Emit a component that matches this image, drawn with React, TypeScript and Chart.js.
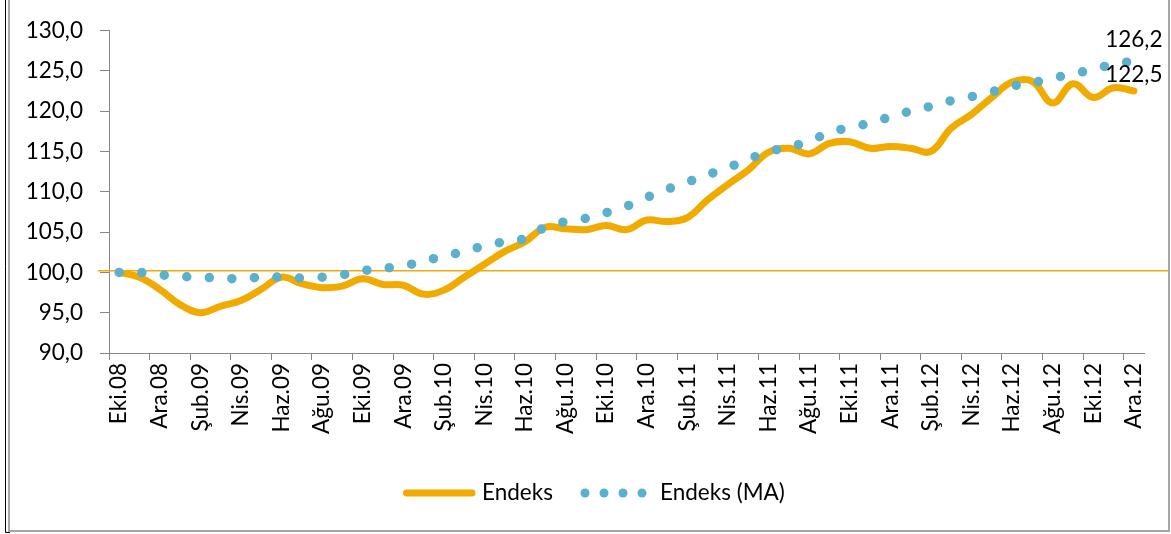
import React, { useEffect, useRef } from "react";
import { Chart, registerables } from "chart.js";

Chart.register(...registerables);

const months = [
  "Eki.08", "Kas.08", "Ara.08",
  "Oca.09", "Şub.09", "Mar.09", "Nis.09", "May.09", "Haz.09", "Tem.09", "Ağu.09", "Eyl.09", "Eki.09", "Kas.09", "Ara.09",
  "Oca.10", "Şub.10", "Mar.10", "Nis.10", "May.10", "Haz.10", "Tem.10", "Ağu.10", "Eyl.10", "Eki.10", "Kas.10", "Ara.10",
  "Oca.11", "Şub.11", "Mar.11", "Nis.11", "May.11", "Haz.11", "Tem.11", "Ağu.11", "Eyl.11", "Eki.11", "Kas.11", "Ara.11",
  "Oca.12", "Şub.12", "Mar.12", "Nis.12", "May.12", "Haz.12", "Tem.12", "Ağu.12", "Eyl.12", "Eki.12", "Kas.12", "Ara.12",
];

const endeks = [
  100.0, 99.4, 97.9, 96.0, 95.0, 95.8, 96.5, 97.9, 99.4, 98.6,
  98.1, 98.3, 99.2, 98.5, 98.4, 97.3, 97.8, 99.4, 101.0, 102.6,
  103.8, 105.6, 105.4, 105.3, 105.8, 105.3, 106.5, 106.3, 106.8, 109.0,
  110.9, 112.7, 114.9, 115.4, 114.7, 116.0, 116.2, 115.4, 115.6, 115.4,
  115.0, 117.9, 119.6, 121.7, 123.6, 123.7, 121.0, 123.4, 121.7, 122.9, 122.5,
];

const endeksMA = [
  100.0, 100.0, 99.7, 99.5, 99.4, 99.3, 99.2, 99.4, 99.4, 99.3,
  99.4, 99.7, 100.2, 100.5, 100.8, 101.4, 102.0, 102.6, 103.3, 103.8,
  104.2, 105.6, 106.3, 106.7, 107.4, 108.2, 109.3, 110.3, 111.2, 112.1,
  113.0, 114.0, 115.0, 115.5, 116.3, 117.3, 118.0, 118.5, 119.3, 120.0,
  120.6, 121.3, 121.8, 122.4, 123.1, 123.5, 124.1, 124.6, 125.2, 125.8, 126.2,
];

const seriesNames = ["Endeks", "Endeks (MA)"];
const yTicks = { min: 90, max: 130, step: 5 };
const referenceLevel = [100.2];

const ORANGE = "#F1AB00";
const BLUE = "#5BB1CD";
const AXIS = "#868686";
const FONT = "Lato, 'Noto Sans', sans-serif";
const FONT_SIZE = 22.5;

const fmt = (v: number) => v.toFixed(1).replace(".", ",");

const overlayPlugin = {
  id: "overlay",
  beforeDatasetsDraw(chart: any) {
    const { ctx } = chart;
    const y = chart.scales.y.getPixelForValue(referenceLevel[0]);
    ctx.save();
    ctx.strokeStyle = ORANGE;
    ctx.lineWidth = 1.5;
    ctx.beginPath();
    ctx.moveTo(98, y);
    ctx.lineTo(1169, y);
    ctx.stroke();
    ctx.restore();
  },
  afterDraw(chart: any) {
    const { ctx } = chart;
    ctx.save();
    // frame
    ctx.strokeStyle = "#000";
    ctx.lineWidth = 1;
    ctx.beginPath();
    ctx.moveTo(5.5, 0);
    ctx.lineTo(5.5, 532.5);
    ctx.lineTo(10, 532.5);
    ctx.stroke();
    ctx.strokeStyle = "#A6A6A6";
    ctx.lineWidth = 2;
    ctx.beginPath();
    ctx.moveTo(9, 0);
    ctx.lineTo(9, 531);
    ctx.lineTo(1169, 531);
    ctx.lineTo(1169, 0);
    ctx.stroke();

    // data labels for last values
    const x = chart.scales.x;
    const yS = chart.scales.y;
    const last = months.length - 1;
    const px = x.getPixelForValue(last);
    ctx.fillStyle = "#000";
    ctx.font = `${FONT_SIZE}px ${FONT}`;
    ctx.textAlign = "center";
    ctx.textBaseline = "middle";
    ctx.fillText(fmt(endeksMA[last]), px, yS.getPixelForValue(endeksMA[last]) - 21);
    ctx.fillText(fmt(endeks[last]), px, yS.getPixelForValue(endeks[last]) - 16);

    // legend
    const ly = 493;
    ctx.strokeStyle = ORANGE;
    ctx.lineWidth = 7;
    ctx.lineCap = "round";
    ctx.beginPath();
    ctx.moveTo(406.5, ly);
    ctx.lineTo(472, ly);
    ctx.stroke();
    ctx.textAlign = "left";
    ctx.fillText(seriesNames[0], 482, ly);
    ctx.fillStyle = BLUE;
    for (let i = 0; i < 4; i++) {
      ctx.beginPath();
      ctx.arc(585 + i * 19, ly, 4.5, 0, Math.PI * 2);
      ctx.fill();
    }
    ctx.fillStyle = "#000";
    ctx.fillText(seriesNames[1], 660, ly);
    ctx.restore();
  },
};

export default function App() {
  const ref = useRef<HTMLCanvasElement | null>(null);
  useEffect(() => {
    document.body.style.margin = "0";
    const canvas = ref.current!;
    const chart = new Chart(canvas, {
      type: "line",
      data: {
        labels: months,
        datasets: [
          {
            label: seriesNames[0],
            data: endeks,
            borderColor: ORANGE,
            backgroundColor: ORANGE,
            borderWidth: 7,
            borderCapStyle: "round",
            borderJoinStyle: "round",
            pointRadius: 0,
            tension: 0.4,
            order: 1,
          },
          {
            label: seriesNames[1],
            data: endeksMA,
            borderColor: BLUE,
            backgroundColor: BLUE,
            borderWidth: 9.5,
            borderDash: [0, 22.6],
            borderCapStyle: "round",
            borderJoinStyle: "round",
            pointRadius: 0,
            tension: 0.4,
            order: 0,
          },
        ],
      },
      options: {
        responsive: false,
        animation: false,
        devicePixelRatio: 1,
        layout: { padding: { left: 0, right: 27, top: 23, bottom: 81 } },
        plugins: {
          legend: { display: false },
          tooltip: { enabled: false },
        },
        scales: {
          x: {
            type: "category",
            offset: true,
            grid: {
              display: true,
              drawOnChartArea: false,
              drawTicks: true,
              tickLength: 7,
              offset: true,
              color: (c: any) => (c.index !== undefined && c.index % 2 === 0 ? AXIS : "rgba(0,0,0,0)"),
            },
            border: { display: true, color: AXIS, width: 1 },
            ticks: {
              autoSkip: false,
              maxRotation: 90,
              minRotation: 90,
              padding: 3,
              color: "#000",
              font: { family: FONT, size: FONT_SIZE },
              callback: (_v: any, i: number) => (i % 2 === 0 ? months[i] : ""),
            },
            afterFit: (s: any) => {
              s.height = 100;
            },
          },
          y: {
            min: yTicks.min,
            max: yTicks.max,
            grid: { display: true, drawOnChartArea: false, drawTicks: true, tickLength: 9, color: AXIS },
            border: { display: true, color: AXIS, width: 1 },
            ticks: {
              stepSize: yTicks.step,
              padding: 17,
              color: "#000",
              font: { family: FONT, size: FONT_SIZE },
              callback: (v: any) => fmt(Number(v)),
            },
            afterFit: (s: any) => {
              s.width = 109;
            },
          },
        },
      },
      plugins: [overlayPlugin],
    });
    if ((document as any).fonts && (document as any).fonts.ready) {
      (document as any).fonts.ready.then(() => chart.update());
    }
    return () => chart.destroy();
  }, []);
  return (
    <div style={{ position: "fixed", left: 0, top: 0, width: 1171, height: 534, background: "#fff" }}>
      <canvas ref={ref} width={1171} height={534} style={{ width: 1171, height: 534, display: "block" }} />
    </div>
  );
}
